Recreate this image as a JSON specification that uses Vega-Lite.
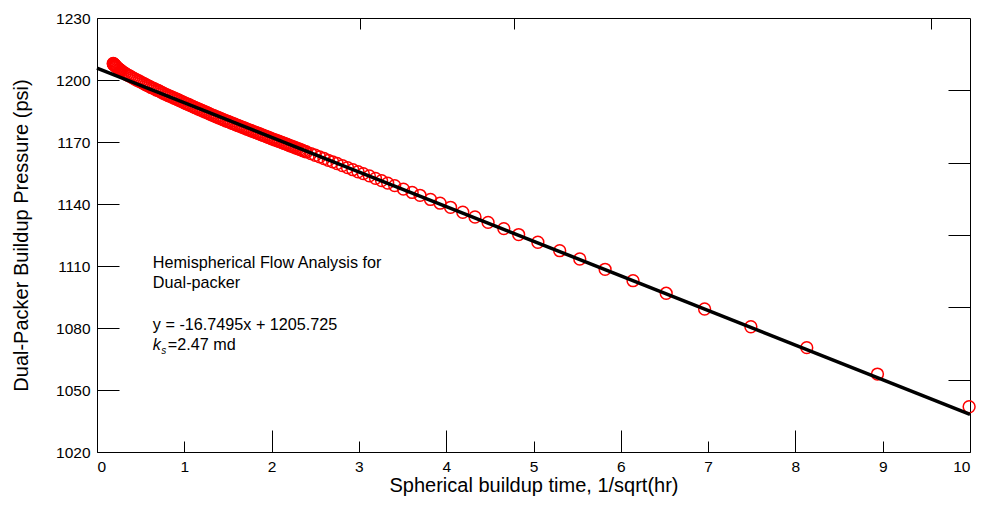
{
  "$schema": "https://vega.github.io/schema/vega-lite/v6.json",
  "width": 873,
  "height": 434,
  "autosize": "none",
  "padding": {"left": 97, "top": 18, "right": 11, "bottom": 55},
  "background": "white",
  "config": {
    "view": {"stroke": null},
    "font": "Liberation Sans",
    "axis": {
      "grid": false,
      "domainColor": "black",
      "tickColor": "black",
      "labelColor": "black",
      "titleColor": "black",
      "labelFont": "Liberation Sans",
      "titleFont": "Liberation Sans",
      "labelFontSize": 15.5,
      "titleFontSize": 20,
      "titleFontWeight": "normal",
      "domainWidth": 1,
      "tickWidth": 1
    }
  },
  "datasets": {
    "fit": [
      {"x": 0, "p": 1205.725},
      {"x": 10, "p": 1038.23}
    ],
    "pts": [
      {"x": 0.186, "p": 1208.0}, {"x": 0.188, "p": 1207.9}, {"x": 0.19, "p": 1207.7}, {"x": 0.192, "p": 1207.6},
      {"x": 0.195, "p": 1207.5}, {"x": 0.197, "p": 1207.4}, {"x": 0.2, "p": 1207.3}, {"x": 0.205, "p": 1207.1},
      {"x": 0.21, "p": 1206.9}, {"x": 0.215, "p": 1206.6}, {"x": 0.22, "p": 1206.4}, {"x": 0.23, "p": 1206.1},
      {"x": 0.24, "p": 1205.7}, {"x": 0.25, "p": 1205.3}, {"x": 0.26, "p": 1205.0}, {"x": 0.27, "p": 1204.7},
      {"x": 0.28, "p": 1204.4}, {"x": 0.3, "p": 1203.8}, {"x": 0.32, "p": 1203.3}, {"x": 0.34, "p": 1202.7},
      {"x": 0.36, "p": 1202.2}, {"x": 0.38, "p": 1201.8}, {"x": 0.4, "p": 1201.3}, {"x": 0.42, "p": 1200.8},
      {"x": 0.44, "p": 1200.4}, {"x": 0.46, "p": 1199.9}, {"x": 0.48, "p": 1199.5}, {"x": 0.5, "p": 1199.1},
      {"x": 0.52, "p": 1198.6}, {"x": 0.54, "p": 1198.2}, {"x": 0.56, "p": 1197.7}, {"x": 0.58, "p": 1197.3},
      {"x": 0.6, "p": 1196.9}, {"x": 0.62, "p": 1196.4}, {"x": 0.64, "p": 1196.1}, {"x": 0.66, "p": 1195.7},
      {"x": 0.68, "p": 1195.2}, {"x": 0.7, "p": 1194.9}, {"x": 0.72, "p": 1194.5}, {"x": 0.74, "p": 1194.0},
      {"x": 0.76, "p": 1193.6}, {"x": 0.78, "p": 1193.2}, {"x": 0.8, "p": 1192.8}, {"x": 0.82, "p": 1192.4},
      {"x": 0.84, "p": 1192.1}, {"x": 0.86, "p": 1191.7}, {"x": 0.88, "p": 1191.3}, {"x": 0.9, "p": 1191.0},
      {"x": 0.92, "p": 1190.6}, {"x": 0.94, "p": 1190.2}, {"x": 0.96, "p": 1189.8}, {"x": 0.98, "p": 1189.4},
      {"x": 1.0, "p": 1189.0}, {"x": 1.02, "p": 1188.6}, {"x": 1.04, "p": 1188.3}, {"x": 1.06, "p": 1187.9},
      {"x": 1.08, "p": 1187.5}, {"x": 1.1, "p": 1187.1}, {"x": 1.12, "p": 1186.7}, {"x": 1.14, "p": 1186.4},
      {"x": 1.16, "p": 1186.0}, {"x": 1.18, "p": 1185.6}, {"x": 1.2, "p": 1185.3}, {"x": 1.22, "p": 1184.9},
      {"x": 1.24, "p": 1184.5}, {"x": 1.26, "p": 1184.2}, {"x": 1.28, "p": 1183.8}, {"x": 1.3, "p": 1183.4},
      {"x": 1.32, "p": 1183.0}, {"x": 1.34, "p": 1182.7}, {"x": 1.36, "p": 1182.3}, {"x": 1.38, "p": 1182.0},
      {"x": 1.4, "p": 1181.6}, {"x": 1.42, "p": 1181.3}, {"x": 1.44, "p": 1180.9}, {"x": 1.46, "p": 1180.6},
      {"x": 1.48, "p": 1180.2}, {"x": 1.5, "p": 1179.9}, {"x": 1.52, "p": 1179.6}, {"x": 1.54, "p": 1179.2},
      {"x": 1.56, "p": 1178.9}, {"x": 1.58, "p": 1178.6}, {"x": 1.6, "p": 1178.2}, {"x": 1.62, "p": 1177.9},
      {"x": 1.64, "p": 1177.6}, {"x": 1.66, "p": 1177.2}, {"x": 1.68, "p": 1176.9}, {"x": 1.7, "p": 1176.6},
      {"x": 1.72, "p": 1176.2}, {"x": 1.74, "p": 1175.9}, {"x": 1.76, "p": 1175.6}, {"x": 1.78, "p": 1175.2},
      {"x": 1.8, "p": 1174.9}, {"x": 1.82, "p": 1174.6}, {"x": 1.84, "p": 1174.3}, {"x": 1.86, "p": 1174.0},
      {"x": 1.88, "p": 1173.6}, {"x": 1.9, "p": 1173.3}, {"x": 1.92, "p": 1173.0}, {"x": 1.94, "p": 1172.6},
      {"x": 1.96, "p": 1172.3}, {"x": 1.98, "p": 1172.0}, {"x": 2.0, "p": 1171.6}, {"x": 2.02, "p": 1171.3},
      {"x": 2.04, "p": 1171.0}, {"x": 2.06, "p": 1170.7}, {"x": 2.08, "p": 1170.4}, {"x": 2.1, "p": 1170.1},
      {"x": 2.12, "p": 1169.7}, {"x": 2.14, "p": 1169.4}, {"x": 2.16, "p": 1169.1}, {"x": 2.18, "p": 1168.8},
      {"x": 2.2, "p": 1168.4}, {"x": 2.22, "p": 1168.1}, {"x": 2.24, "p": 1167.8}, {"x": 2.26, "p": 1167.5},
      {"x": 2.28, "p": 1167.1}, {"x": 2.3, "p": 1166.8}, {"x": 2.32, "p": 1166.5}, {"x": 2.34, "p": 1166.2},
      {"x": 2.36, "p": 1165.8}, {"x": 2.38, "p": 1165.5}, {"x": 2.4, "p": 1165.2}, {"x": 2.45, "p": 1164.4},
      {"x": 2.5, "p": 1163.6}, {"x": 2.55, "p": 1162.8}, {"x": 2.6, "p": 1162.0}, {"x": 2.65, "p": 1161.1},
      {"x": 2.7, "p": 1160.4}, {"x": 2.75, "p": 1159.6}, {"x": 2.81, "p": 1158.6}, {"x": 2.87, "p": 1157.6},
      {"x": 2.93, "p": 1156.6}, {"x": 2.99, "p": 1155.6}, {"x": 3.05, "p": 1154.7}, {"x": 3.12, "p": 1153.6},
      {"x": 3.19, "p": 1152.4}, {"x": 3.26, "p": 1151.3}, {"x": 3.33, "p": 1150.1}, {"x": 3.41, "p": 1148.9},
      {"x": 3.51, "p": 1147.2}, {"x": 3.61, "p": 1145.6}, {"x": 3.7, "p": 1144.2}, {"x": 3.82, "p": 1142.2},
      {"x": 3.93, "p": 1140.4}, {"x": 4.05, "p": 1138.4}, {"x": 4.19, "p": 1136.0}, {"x": 4.33, "p": 1133.7},
      {"x": 4.48, "p": 1131.1}, {"x": 4.66, "p": 1128.1}, {"x": 4.83, "p": 1125.2}, {"x": 5.05, "p": 1121.5},
      {"x": 5.3, "p": 1117.4}, {"x": 5.53, "p": 1113.4}, {"x": 5.82, "p": 1108.4}, {"x": 6.14, "p": 1102.9},
      {"x": 6.52, "p": 1096.8}, {"x": 6.96, "p": 1089.2}, {"x": 7.49, "p": 1080.6}, {"x": 8.13, "p": 1070.5},
      {"x": 8.94, "p": 1057.7}, {"x": 9.99, "p": 1041.9}
    ]
  },
  "layer": [
    {
      "data": {"name": "pts"},
      "mark": {"type": "point", "shape": "circle", "filled": false, "color": "#ff0000", "size": 140, "strokeWidth": 1.5, "opacity": 1, "clip": false},
      "encoding": {
        "x": {"field": "x", "type": "quantitative", "scale": {"domain": [0, 10], "nice": false, "zero": false},
              "axis": {"orient": "bottom", "values": [2, 4, 6, 8], "tickSize": -22, "labels": false, "domain": false, "title": null}},
        "y": {"field": "p", "type": "quantitative", "scale": {"domain": [1020, 1230], "nice": false, "zero": false},
              "axis": {"orient": "right", "values": [1055, 1090, 1125, 1160, 1195], "tickSize": -22, "labels": false, "domain": true, "title": null}}
      }
    },
    {
      "data": {"name": "fit"},
      "mark": {"type": "line", "color": "black", "strokeWidth": 3.5},
      "encoding": {
        "x": {"field": "x", "type": "quantitative",
              "axis": {"orient": "bottom", "values": [0, 1, 2, 3, 4, 5, 6, 7, 8, 9, 10], "format": "d", "tickSize": -11, "labelPadding": 18,
                       "title": "Spherical buildup time, 1/sqrt(hr)", "titlePadding": 1}},
        "y": {"field": "p", "type": "quantitative",
              "axis": {"orient": "left", "values": [1020, 1050, 1080, 1110, 1140, 1170, 1200, 1230], "format": "d", "tickSize": -22, "labelPadding": 29,
                       "title": "Dual-Packer Buildup Pressure (psi)", "titlePadding": 24}}
      }
    },
    {
      "data": {"name": "fit"},
      "mark": {"type": "line", "opacity": 0},
      "encoding": {
        "x": {"field": "x", "type": "quantitative",
              "axis": {"orient": "top", "values": [3.01, 4.78, 9.55], "tickSize": -11, "labels": false, "title": null}},
        "y": {"field": "p", "type": "quantitative", "axis": null}
      }
    },
    {
      "data": {"values": [{}]},
      "mark": {"type": "text", "align": "left", "baseline": "alphabetic", "fontSize": 16.2, "lineHeight": 19.5, "color": "black"},
      "encoding": {
        "x": {"datum": 0.64, "type": "quantitative", "axis": null},
        "y": {"datum": 1108.8, "type": "quantitative", "axis": null},
        "text": {"value": ["Hemispherical Flow Analysis for", "Dual-packer"]}
      }
    },
    {
      "data": {"values": [{}]},
      "mark": {"type": "text", "align": "left", "baseline": "alphabetic", "fontSize": 16.2, "color": "black"},
      "encoding": {
        "x": {"datum": 0.64, "type": "quantitative", "axis": null},
        "y": {"datum": 1078.8, "type": "quantitative", "axis": null},
        "text": {"value": "y = -16.7495x + 1205.725"}
      }
    },
    {
      "data": {"values": [{}]},
      "mark": {"type": "text", "align": "left", "baseline": "alphabetic", "fontSize": 16.2, "fontStyle": "italic", "color": "black"},
      "encoding": {
        "x": {"datum": 0.64, "type": "quantitative", "axis": null},
        "y": {"datum": 1069.3, "type": "quantitative", "axis": null},
        "text": {"value": "k"}
      }
    },
    {
      "data": {"values": [{}]},
      "mark": {"type": "text", "align": "left", "baseline": "alphabetic", "fontSize": 10, "fontStyle": "italic", "color": "black"},
      "encoding": {
        "x": {"datum": 0.735, "type": "quantitative", "axis": null},
        "y": {"datum": 1067.2, "type": "quantitative", "axis": null},
        "text": {"value": "s"}
      }
    },
    {
      "data": {"values": [{}]},
      "mark": {"type": "text", "align": "left", "baseline": "alphabetic", "fontSize": 16.2, "color": "black"},
      "encoding": {
        "x": {"datum": 0.81, "type": "quantitative", "axis": null},
        "y": {"datum": 1069.3, "type": "quantitative", "axis": null},
        "text": {"value": "=2.47 md"}
      }
    }
  ],
  "resolve": {"axis": {"x": "independent", "y": "independent"}}
}
